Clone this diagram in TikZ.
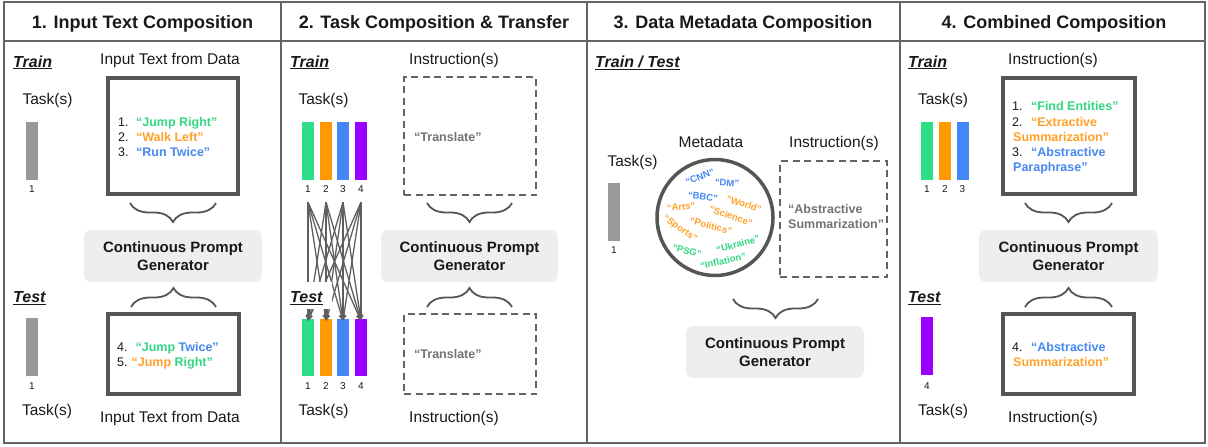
\documentclass[tikz,border=0pt]{standalone}
\usepackage{fontspec}
\setmainfont{Liberation Sans}
\usetikzlibrary{decorations.pathreplacing,arrows.meta}
\definecolor{cgreen}{RGB}{46,221,135}
\definecolor{corange}{RGB}{255,153,0}
\definecolor{cblue}{RGB}{66,135,245}
\definecolor{cpurple}{RGB}{153,0,255}
\definecolor{cgraybar}{RGB}{153,153,153}
\definecolor{tgreen}{RGB}{52,214,130}
\definecolor{torange}{RGB}{255,160,40}
\definecolor{tblue}{RGB}{70,135,240}
\definecolor{tgray}{RGB}{115,115,115}
\definecolor{framec}{RGB}{100,100,100}
\definecolor{boxc}{RGB}{85,85,85}
\definecolor{dashc}{RGB}{100,100,100}
\definecolor{linec}{RGB}{95,95,95}
\definecolor{cpgfill}{RGB}{238,238,238}
\definecolor{txt}{RGB}{25,25,25}
\begin{document}
\begin{tikzpicture}[x=1pt,y=-1pt,
  frm/.style={draw=framec, line width=2pt},
  hdr/.style={anchor=base, inner sep=0, font=\fontsize{18}{21}\selectfont\bfseries, text=txt},
  phase/.style={anchor=base west, inner sep=0, font=\fontsize{16}{19}\selectfont\bfseries\itshape, text=txt},
  lbl/.style={anchor=base, inner sep=0, font=\fontsize{15.5}{18}\selectfont, text=txt},
  num/.style={anchor=base, inner sep=0, font=\fontsize{10}{12}\selectfont, text=txt},
  taskbar/.style={minimum width=12pt, minimum height=58pt, inner sep=0, draw=none},
  bigbox/.style={draw=boxc, line width=3.5pt, inner sep=0},
  dbox/.style={draw=dashc, line width=2pt, dash pattern=on 7pt off 4.5pt, inner sep=0},
  cpg/.style={fill=cpgfill, rounded corners=7pt, minimum width=178pt, minimum height=52pt, align=center, font=\fontsize{15}{17.5}\selectfont\bfseries, inner sep=0, text=txt},
  item/.style={anchor=base west, inner sep=0, font=\fontsize{12.5}{15}\selectfont, text=txt},
  gtxt/.style={anchor=base west, inner sep=0, font=\fontsize{12.5}{15}\selectfont\bfseries, text=tgray},
  meta/.style={inner sep=0, font=\fontsize{9.5}{11}\selectfont\bfseries},
  brc/.style={draw=boxc, line width=1.8pt, decorate, decoration={brace, amplitude=19pt}},
  cross/.style={draw=linec, line width=1.3pt, -{Triangle[length=6pt,width=5pt]}}
]
\useasboundingbox (0,0) rectangle (1208,447);
% frame
\draw[frm] (4,2) rectangle (1205,443);
\draw[frm] (4,40.5) -- (1205,40.5);
\foreach \x in {280.5,587,900} \draw[frm] (\x,2) -- (\x,443);
% headers
\node[hdr] (h1) at (142.5,28) {1. Input Text Composition};
\node[hdr] (h2) at (434,28) {2. Task Composition \& Transfer};
\node[hdr] (h3) at (743,28) {3. Data Metadata Composition};
\node[hdr] (h4) at (1054,28) {4. Combined Composition};

%% ---------------- Panel 1 ----------------
\node[phase] (p1train) at (13,67) {\underline{Train}};
\node[lbl] (p1in) at (170,64.5) {Input Text from Data};
\node[lbl] (p1task) at (47.5,104.5) {Task(s)};
\node[taskbar, fill=cgraybar] (p1bar) at (32,151) {};
\node[num] (p1n) at (32,192.5) {1};
\node[bigbox, minimum width=130pt, minimum height=116pt] (p1box) at (173,136) {};
\node[item] (p1i1) at (118,126) {1.\hspace{7.5pt}\textbf{\color{tgreen}“Jump Right”}};
\node[item] (p1i2) at (118,141) {2.\hspace{7.5pt}\textbf{\color{torange}“Walk Left”}};
\node[item] (p1i3) at (118,156) {3.\hspace{7.5pt}\textbf{\color{tblue}“Run Twice”}};
\draw[brc] (216,203) -- (130,203);
\node[cpg] (p1cpg) at (173,256) {Continuous Prompt\\Generator};
\draw[brc] (131,307) -- (216,307);
\node[phase] (p1test) at (13,302.7) {\underline{Test}};
\node[taskbar, fill=cgraybar] (p1bbar) at (32,346.5) {};
\node[num] (p1bn) at (32,389) {1};
\node[lbl] (p1btask) at (47,415.7) {Task(s)};
\node[bigbox, minimum width=131pt, minimum height=80pt] (p1tbox) at (173.5,354) {};
\node[item] (p1t1) at (117,351) {4.\hspace{8pt}\textbf{{\color{tgreen}“Jump} {\color{tblue}Twice”}}};
\node[item] (p1t2) at (117,366) {5.\hspace{4pt}\textbf{{\color{torange}“Jump} {\color{tgreen}Right”}}};
\node[lbl] (p1bin) at (170,422.3) {Input Text from Data};

%% ---------------- Panel 2 ----------------
\node[lbl] (p2ins) at (454,64) {Instruction(s)};
\node[lbl] (p2task) at (323.5,104.5) {Task(s)};
\node[taskbar, fill=cgreen]  (ta1) at (308,151) {};
\node[taskbar, fill=corange] (ta2) at (326,151) {};
\node[taskbar, fill=cblue]   (ta3) at (343,151) {};
\node[taskbar, fill=cpurple] (ta4) at (361,151) {};
\node[num] (tn1) at (308,192.5) {1};
\node[num] (tn2) at (326,192.5) {2};
\node[num] (tn3) at (343,192.5) {3};
\node[num] (tn4) at (361,192.5) {4};
\node[taskbar, fill=cgreen,  minimum height=57pt] (tb1) at (308,347.5) {};
\node[taskbar, fill=corange, minimum height=57pt] (tb2) at (326,347.5) {};
\node[taskbar, fill=cblue,   minimum height=57pt] (tb3) at (343,347.5) {};
\node[taskbar, fill=cpurple, minimum height=57pt] (tb4) at (361,347.5) {};
\foreach \i in {1,2,3,4}
  \foreach \j in {1,2,3,4}
    \draw[cross] ([yshift=-22pt]ta\i.south) -- ([yshift=-2pt]tb\j.north);
\fill[white] (286,282) rectangle (332,309);
\node[phase] (p2train) at (290,67) {\underline{Train}};
\node[phase] (p2test) at (290,302.7) {\underline{Test}};
\node[num] (bn1) at (308,389) {1};
\node[num] (bn2) at (326,389) {2};
\node[num] (bn3) at (343,389) {3};
\node[num] (bn4) at (361,389) {4};
\node[lbl] (p2btask) at (323.5,415.7) {Task(s)};
\node[dbox, minimum width=132pt, minimum height=118pt] (p2box) at (470,136) {};
\node[gtxt] (p2tr) at (414,141) {“Translate”};
\draw[brc] (512,203) -- (427,203);
\node[cpg, minimum width=177pt] (p2cpg) at (469.5,256) {Continuous Prompt\\Generator};
\draw[brc] (427,307) -- (512,307);
\node[dbox, minimum width=132pt, minimum height=80pt] (p2tbox) at (470,354) {};
\node[gtxt] (p2ttr) at (414,358.3) {“Translate”};
\node[lbl] (p2bins) at (454,422) {Instruction(s)};

%% ---------------- Panel 3 ----------------
\node[phase] (p3tt) at (595,67) {\underline{Train / Test}};
\node[lbl] (p3meta) at (711,147.3) {Metadata};
\node[lbl] (p3ins) at (834,147.3) {Instruction(s)};
\node[lbl] (p3task) at (632.5,166) {Task(s)};
\node[taskbar, fill=cgraybar] (p3bar) at (614,212) {};
\node[num] (p3n) at (614,253) {1};
\node[draw=boxc, line width=3.5pt, circle, minimum size=116pt, inner sep=0] (p3circ) at (715,217.5) {};
\node[meta, text=tblue, rotate=22] (mcnn) at (700,177) {“CNN”};
\node[meta, text=tblue, rotate=-5] (mdm) at (727,183) {“DM”};
\node[meta, text=tblue, rotate=-8] (mbbc) at (703,197) {“BBC”};
\node[meta, text=torange, rotate=-18] (mworld) at (744,204) {“World”};
\node[meta, text=torange, rotate=4] (marts) at (681,207) {“Arts”};
\node[meta, text=torange, rotate=-20] (mscience) at (731,216) {“Science”};
\node[meta, text=torange, rotate=-35] (msports) at (680,229) {“Sports”};
\node[meta, text=torange, rotate=-15] (mpolitics) at (711,226) {“Politics”};
\node[meta, text=tgreen, rotate=15] (mukraine) at (738,244) {“Ukraine”};
\node[meta, text=tgreen, rotate=-15] (mpsg) at (687,251) {“PSG”};
\node[meta, text=tgreen, rotate=12] (minfl) at (723,261) {“Inflation”};
\node[dbox, minimum width=107pt, minimum height=116pt] (p3box) at (833.5,219) {};
\node[gtxt] (p3a1) at (788,213.3) {“Abstractive};
\node[gtxt] (p3a2) at (788,228.3) {Summarization”};
\draw[brc] (818,299) -- (733,299);
\node[cpg] (p3cpg) at (775,352) {Continuous Prompt\\Generator};

%% ---------------- Panel 4 ----------------
\node[phase] (p4train) at (908,67) {\underline{Train}};
\node[lbl] (p4ins) at (1053,64) {Instruction(s)};
\node[lbl] (p4task) at (943,104.5) {Task(s)};
\node[taskbar, fill=cgreen]  (p4a1) at (927,151) {};
\node[taskbar, fill=corange] (p4a2) at (945,151) {};
\node[taskbar, fill=cblue]   (p4a3) at (962.5,151) {};
\node[num] (p4n1) at (927,192.5) {1};
\node[num] (p4n2) at (945,192.5) {2};
\node[num] (p4n3) at (962.5,192.5) {3};
\node[bigbox, minimum width=132pt, minimum height=116pt] (p4box) at (1069,136) {};
\node[item] (p4i1) at (1012,110.5) {1.\hspace{8.5pt}\textbf{\color{tgreen}“Find Entities”}};
\node[item] (p4i2) at (1012,126) {2.\hspace{8.5pt}\textbf{\color{torange}“Extractive}};
\node[item] (p4i3) at (1013,141) {\textbf{\color{torange}Summarization”}};
\node[item] (p4i4) at (1012,156) {3.\hspace{8.5pt}\textbf{\color{tblue}“Abstractive}};
\node[item] (p4i5) at (1013,171) {\textbf{\color{tblue}Paraphrase”}};
\draw[brc] (1112,203) -- (1025,203);
\node[cpg, minimum width=179pt] (p4cpg) at (1068.5,256) {Continuous Prompt\\Generator};
\draw[brc] (1025,307) -- (1112,307);
\node[phase] (p4test) at (908,302.7) {\underline{Test}};
\node[taskbar, fill=cpurple] (p4bbar) at (927,346) {};
\node[num] (p4bn) at (927,389) {4};
\node[lbl] (p4btask) at (943,415.7) {Task(s)};
\node[bigbox, minimum width=131pt, minimum height=80pt] (p4tbox) at (1068.5,354) {};
\node[item] (p4t1) at (1012,351) {4.\hspace{8.5pt}\textbf{\color{tblue}“Abstractive}};
\node[item] (p4t2) at (1013,366) {\textbf{\color{torange}Summarization”}};
\node[lbl] (p4bins) at (1053,422) {Instruction(s)};
\end{tikzpicture}
\end{document}
